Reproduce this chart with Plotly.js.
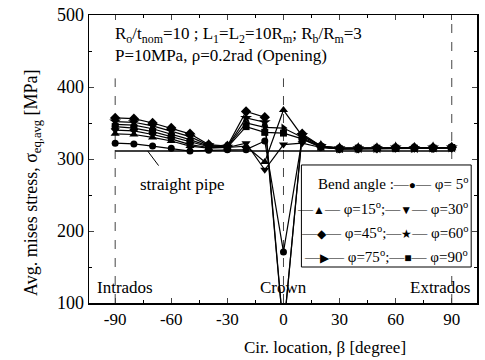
<!DOCTYPE html>
<html>
<head>
<meta charset="utf-8">
<script src="https://cdn.plot.ly/plotly-3.0.1.min.js"></script>
<style>html,body{margin:0;padding:0;background:#fff;}#chart{width:485px;height:360px;}</style>
</head>
<body>
<div id="chart"></div>
<script>
// Circumferential location (degree)
const beta = [-90,-80,-70,-60,-50,-40,-30,-20,-10,0,10,20,30,40,50,60,70,80,90];
// Avg. mises stress (MPa) per bend angle
const phi5  = [322,321,318,315,311,312,313,313,325,171,328,316,314,314,315,315,315,314,315];
const phi15 = [335,334,330,325,318,315,316,318,296,368,332,318,315,315,314,315,316,315,315];
const phi30 = [340,339,334,328,320,316,316,322,285,320,322,316,314,314,315,315,315,315,316];
const phi45 = [357,356,350,343,335,320,318,366,358,60,335,318,315,315,315,316,316,316,316];
const phi60 = [352,351,346,339,331,319,317,357,351,60,333,318,315,315,315,316,315,316,316];
const phi75 = [348,347,342,335,327,318,317,350,344,343,330,317,314,314,315,315,315,315,316];
const phi90 = [345,343,338,331,324,317,316,345,337,336,328,317,314,315,315,315,315,315,316];
const straight = [311,311,311,311,311,311,311,311,311,311,311,311,311,311,311,311,311,311,311];

// Tick labels
const xTickVals = [-90,-60,-30,0,30,60,90];
const xTickText = ['-90','-60','-30','0','30','60','90'];
const yTickVals = [100,200,300,400,500];
const yTickText = ['100','200','300','400','500'];

const seriesNames = ['φ=5°','φ=15°','φ=30°','φ=45°','φ=60°','φ=75°','φ=90°'];
const seriesData = [phi5, phi15, phi30, phi45, phi60, phi75, phi90];
const symbols = ['circle','triangle-up','triangle-down','diamond','star','triangle-right','square'];
const sizes = [7,8,8,8,9,8,7];

const FONT = 'Liberation Serif, Times New Roman, serif';

const traces = [{
  x: beta, y: straight, type: 'scatter', mode: 'lines', name: 'straight pipe',
  line: {color: '#000', width: 1.5}, showlegend: false
}];
seriesData.forEach((d, i) => {
  traces.push({
    x: beta, y: d, type: 'scatter', mode: 'lines+markers', name: seriesNames[i],
    line: {color: '#000', width: 1.2},
    marker: {symbol: symbols[i], size: sizes[i], color: '#000'},
    showlegend: false
  });
});

const S = g => '<span style="font-size:12px">' + g + '</span>';
const legendRows = [
  'Bend angle :—' + S('●') + '— φ= 5<sup>o</sup>',
  '—' + S('▲') + '— φ=15<sup>o</sup>;—' + S('▼') + '— φ=30<sup>o</sup>',
  '—' + S('◆') + '— φ=45<sup>o</sup>;—' + S('★') + '— φ=60<sup>o</sup>',
  '—' + S('▶') + '— φ=75<sup>o</sup>;—' + S('■') + '— φ=90<sup>o</sup>'
];
const legendRowY = [266, 232, 198, 165];

const annotations = [
  {xref:'x', yref:'y', x:-91, y:472, xanchor:'left', yanchor:'middle', showarrow:false,
   text:'R<sub>o</sub>/t<sub>nom</sub>=10 ; L<sub>1</sub>=L<sub>2</sub>=10R<sub>m</sub>; R<sub>b</sub>/R<sub>m</sub>=3',
   font:{family:FONT, size:17, color:'#000'}},
  {xref:'x', yref:'y', x:-91, y:444, xanchor:'left', yanchor:'middle', showarrow:false,
   text:'P=10MPa, ρ=0.2rad (Opening)', font:{family:FONT, size:17, color:'#000'}},
  {xref:'x', yref:'y', x:-54, y:264, xanchor:'center', yanchor:'middle', showarrow:false, text:'straight pipe',
   font:{family:FONT, size:17, color:'#000'}},
  {xref:'x', yref:'y', x:-72.6, y:311, ax:12, ay:16, showarrow:true, arrowhead:0, arrowwidth:1, arrowcolor:'#000', text:''},
  {xref:'x', yref:'y', x:-85, y:122, xanchor:'center', yanchor:'middle', showarrow:false, text:'Intrados', font:{family:FONT, size:17, color:'#000'}},
  {xref:'x', yref:'y', x:0, y:122, xanchor:'center', yanchor:'middle', showarrow:false, text:'Crown', font:{family:FONT, size:17, color:'#000'}},
  {xref:'x', yref:'y', x:101, y:122, xanchor:'right', yanchor:'middle', showarrow:false, text:'Extrados', font:{family:FONT, size:17, color:'#000'}},
  {xref:'paper', yref:'paper', x:-0.147, y:0.42, xanchor:'center', yanchor:'middle', textangle:-90, showarrow:false,
   text:'Avg. mises stress, σ<sub>eq,avg</sub> [MPa]', font:{family:FONT, size:18, color:'#000'}},
  {xref:'paper', yref:'paper', x:0.608, y:-0.156, xanchor:'center', yanchor:'middle', showarrow:false,
   text:'Cir. location, β [degree]', font:{family:FONT, size:17, color:'#000'}}
];
legendRows.forEach((t, i) => {
  annotations.push({xref:'x', yref:'y', x:99.6, y:legendRowY[i], xanchor:'right', yanchor:'middle',
    showarrow:false, text:t, font:{family:FONT, size:15, color:'#000'}});
});

const shapes = [
  {type:'line', xref:'x', yref:'y', x0:-90, x1:-90, y0:100, y1:412, layer:'below', line:{color:'#444', width:1, dash:'dash'}},
  {type:'line', xref:'x', yref:'y', x0:0, x1:0, y0:100, y1:412, layer:'below', line:{color:'#444', width:1, dash:'dash'}},
  {type:'line', xref:'x', yref:'y', x0:90, x1:90, y0:100, y1:500, layer:'below', line:{color:'#444', width:1, dash:'dash'}},
  {type:'rect', xref:'x', yref:'y', x0:9.6, x1:100.4, y0:150, y1:291.7, layer:'above', fillcolor:'#fff', line:{color:'#000', width:1}}
];

const layout = {
  width: 485, height: 360,
  margin: {l:89, r:8, t:15, b:57},
  paper_bgcolor: '#fff', plot_bgcolor: '#fff',
  showlegend: false,
  font: {family: FONT, size: 17, color: '#000'},
  xaxis: {
    range: [-104, 103.5], tickmode: 'array', tickvals: xTickVals, ticktext: xTickText,
    ticks: 'inside', ticklen: 5, tickwidth: 1,
    mirror: 'ticks', showline: true, linecolor: '#000', linewidth: 1.5, showgrid: false, zeroline: false,
    tickfont: {family: FONT, size: 17, color: '#000'},
    minor: {tickmode: 'linear', dtick: 15, tick0: 0, ticks: 'inside', ticklen: 3, tickcolor: '#000', showgrid: false}
  },
  yaxis: {
    range: [100, 500], tickmode: 'array', tickvals: yTickVals, ticktext: yTickText,
    ticks: 'inside', ticklen: 5, tickwidth: 1,
    mirror: 'ticks', showline: true, linecolor: '#000', linewidth: 1.5, showgrid: false, zeroline: false,
    tickfont: {family: FONT, size: 18, color: '#000'},
    minor: {tickmode: 'linear', dtick: 50, tick0: 0, ticks: 'inside', ticklen: 3, tickcolor: '#000', showgrid: false}
  },
  annotations: annotations,
  shapes: shapes
};

Plotly.newPlot('chart', traces, layout, {displayModeBar: false, staticPlot: true});
</script>
</body>
</html>
